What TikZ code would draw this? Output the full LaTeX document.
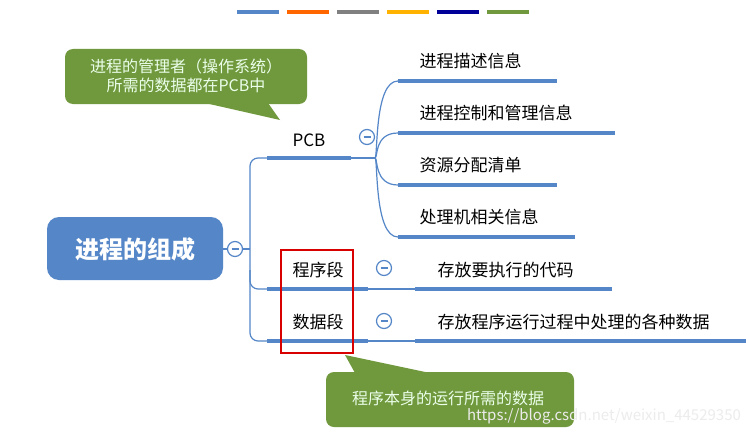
\documentclass[tikz,border=0pt]{standalone}
\usepackage{fontspec}
\setmainfont{Noto Sans CJK SC}
\usetikzlibrary{calc}
\definecolor{mapblue}{RGB}{84,134,200}
\definecolor{notegreen}{RGB}{112,152,60}
\tikzset{
  thick line/.style={mapblue,line width=3.5pt},
  thin line/.style={mapblue,line width=1.2pt},
  fold/.style={circle,draw=mapblue,line width=1.2pt,fill=white,text=mapblue,minimum size=15pt,inner sep=0pt},
  leaf/.style={anchor=west,font=\fontsize{17}{20}\selectfont},
  note/.style={text=white!92!green,font=\fontsize{16}{19}\selectfont,align=center}
}
\newcommand{\minussign}{\rule{7pt}{1.3pt}}
\begin{document}
\begin{tikzpicture}[x=1pt,y=-1pt]
\useasboundingbox (0,0) rectangle (746,436);
\fill[white] (0,0) rectangle (746,436);
% colour bars on top
\foreach \C [count=\i] in {mapblue,orange!80!red,gray,orange!60!yellow,blue!60!black,notegreen}
  {\fill[\C] ({237+50*(\i-1)},10) rectangle ++(42,4);}
% root
\fill[mapblue,rounded corners=12pt] (47,217) rectangle (223,280);
\node[text=white,font=\bfseries\fontsize{24}{28}\selectfont] (root) at (135,249) {进程的组成};
% trunk
\draw[thin line,rounded corners=8pt] (267,158) -- (250,158) -- (250,341) -- (267,341);
\draw[thin line] (223,249) -- (250,249);
\draw[thin line,rounded corners=8pt] (250,270) -- (250,289) -- (267,289);
\node[fold] (rootfold) at (235,249) {\minussign};
% PCB branch
\node[font=\fontsize{17}{20}\selectfont] (pcb) at (309,140) {PCB};
\draw[thick line] (267,158) -- (351,158);
\draw[thin line] (351,158) -- (375,158);
\coordinate (fork) at (375,158);
\foreach \Y/\E/\T in {81/557/进程描述信息,133/615/进程控制和管理信息,185/557/资源分配清单,237/575/处理机相关信息}
{\draw[thin line] (fork) .. controls (378,158) and (374,\Y) .. (398,\Y);
 \draw[thick line] (398,\Y) -- (\E,\Y);
 \node[leaf] at (416,\Y-20) {\T};}
\node[fold] (pcbfold) at (367,137) {\minussign};
% 程序段
\node[font=\fontsize{17}{20}\selectfont] (code) at (318,270) {程序段};
\draw[thick line] (267,289) -- (368,289);
\draw[thin line] (368,289) -- (415,289);
\draw[thick line] (415,289) -- (612,289);
\node[leaf] (codeleaf) at (434,270) {存放要执行的代码};
\node[fold] (codefold) at (384,268) {\minussign};
% 数据段
\node[font=\fontsize{17}{20}\selectfont] (data) at (318,322) {数据段};
\draw[thick line] (267,341) -- (368,341);
\draw[thin line] (368,341) -- (415,341);
\draw[thick line] (415,341) -- (746,341);
\node[leaf] (dataleaf) at (434,322) {存放程序运行过程中处理的各种数据};
\node[fold] (datafold) at (384,321) {\minussign};
% red frame
\draw[red!85!black,line width=1.3pt] (281,250) rectangle (353,353);
% callouts
\fill[notegreen,rounded corners=8pt] (65,49) rectangle (307,104);
\fill[notegreen] (205,103) -- (280,120) -- (268,103) -- cycle;
\node[note] (pcbnote) at (186,76) {进程的管理者（操作系统）\\所需的数据都在PCB中};
\fill[notegreen,rounded corners=8pt] (326,372) rectangle (574,427);
\fill[notegreen] (345,355) -- (355,373) -- (430,373) -- cycle;
\node[note] (codenote) at (448,398) {程序本身的运行所需的数据};
\node[text=white!85!gray,font=\fontsize{15}{17}\selectfont] (mark) at (604,416) {https://blog.csdn.net/weixin\_44529350};
\end{tikzpicture}
\end{document}
